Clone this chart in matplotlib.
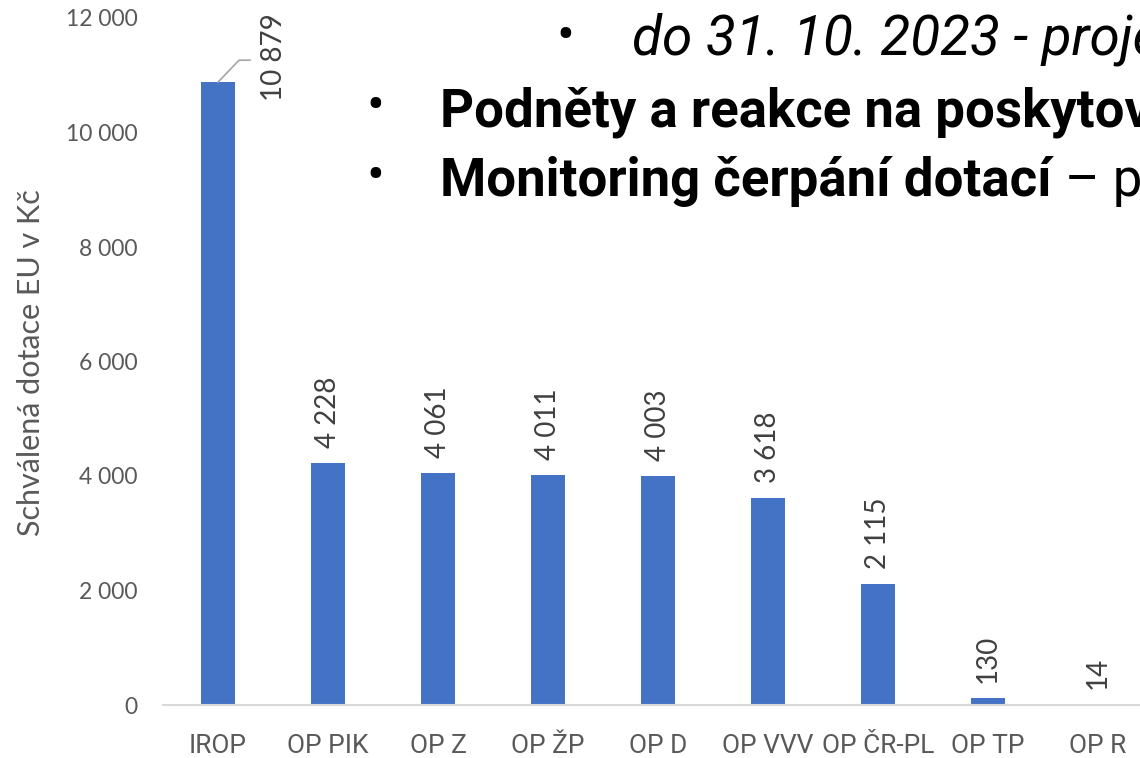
import matplotlib
matplotlib.use("Agg")
import matplotlib.pyplot as plt
from matplotlib import font_manager
from matplotlib.transforms import offset_copy

# schvalene dotace EU podle programu (mil. Kc)
programy = ["IROP", "OP PIK", "OP Z", "OP ŽP", "OP D", "OP VVV", "OP ČR-PL", "OP TP", "OP R"]
dotace = [10879, 4228, 4061, 4011, 4003, 3618, 2115, 130, 14]
yticks = [0, 2000, 4000, 6000, 8000, 10000, 12000]

radky = ["do 31. 10. 2023 - projekty",
         "Podněty a reakce na poskytování",
         "Monitoring čerpání dotací"]
radek3_konec = " – p"

installed = {f.name for f in font_manager.fontManager.ttflist}
narrow = "Liberation Sans Narrow" if "Liberation Sans Narrow" in installed else "Roboto"
plt.rcParams["font.family"] = ["Lato", "DejaVu Sans"]

def fmt(v):
    return f"{v:,}".replace(",", " ")

W, H = 1140, 758
fig = plt.figure(figsize=(W / 100, H / 100), dpi=100)
ax = fig.add_axes([163 / W, 53 / H, 990 / W, 687 / H])

x = list(range(len(programy)))
ax.bar(x, dotace, width=0.31, color="#4472C4", zorder=2)
ax.set_xlim(-0.5, len(programy) - 0.5)
ax.set_ylim(0, 12000)

ax.set_yticks(yticks)
ax.set_yticklabels([fmt(v) for v in yticks], fontsize=16.5, color="#595959")
ax.set_xticks(x)
ax.set_xticklabels(programy, fontsize=19, color="#595959", family=[narrow, "DejaVu Sans"])
ax.tick_params(axis="y", length=0, pad=18.5)
ax.tick_params(axis="x", length=0, pad=21)

for s in ["top", "right", "left"]:
    ax.spines[s].set_visible(False)
ax.spines["bottom"].set_color("#D9D9D9")
ax.spines["bottom"].set_linewidth(1.5)

ax.set_ylabel("Schválená dotace EU v Kč", fontsize=22, color="#595959")
ax.yaxis.set_label_coords((45 - 163) / 990, (758 - 363 - 53) / 687)

# popisky hodnot nad sloupci
for i, v in enumerate(dotace):
    if i == 0:
        # vynaseci cara k posunutemu popisku
        pts_x = [0, 21, 32]
        pts_y = [0, 22, 22]
        ax.plot([i + px / 110 for px in pts_x],
                [v + py * 12000 / 687 for py in pts_y],
                color="#A6A6A6", lw=1.2, clip_on=False, zorder=3)
        tr = offset_copy(ax.transData, fig=fig, x=56, y=-19, units="dots")
    else:
        tr = offset_copy(ax.transData, fig=fig, x=0, y=15, units="dots")
    ax.text(i, v, fmt(v), transform=tr, rotation=90, ha="center", va="bottom",
            fontsize=20, color="#404040")

# text slajdu pres graf
fs = 38
fam = [narrow, "DejaVu Sans"]
fig.text(565 / W, 1 - 38 / H, "•", fontsize=fs, ha="center", va="center", family=fam)
fig.text(632 / W, 1 - 55 / H, radky[0], fontsize=39.5, style="italic", va="baseline", family=fam)
fig.text(375 / W, 1 - 108 / H, "•", fontsize=fs, ha="center", va="center", family=fam)
fig.text(440 / W, 1 - 126 / H, radky[1], fontsize=fs, weight="bold", va="baseline", family=fam)
fig.text(375 / W, 1 - 178 / H, "•", fontsize=fs, ha="center", va="center", family=fam)
t3 = fig.text(440 / W, 1 - 196 / H, radky[2], fontsize=fs, weight="bold", va="baseline", family=fam)
fig.canvas.draw()
bb = t3.get_window_extent()
fig.text(bb.x1 / W, 1 - 196 / H, radek3_konec, fontsize=fs, va="baseline", family=fam)

fig.savefig("out.png", dpi=100)
